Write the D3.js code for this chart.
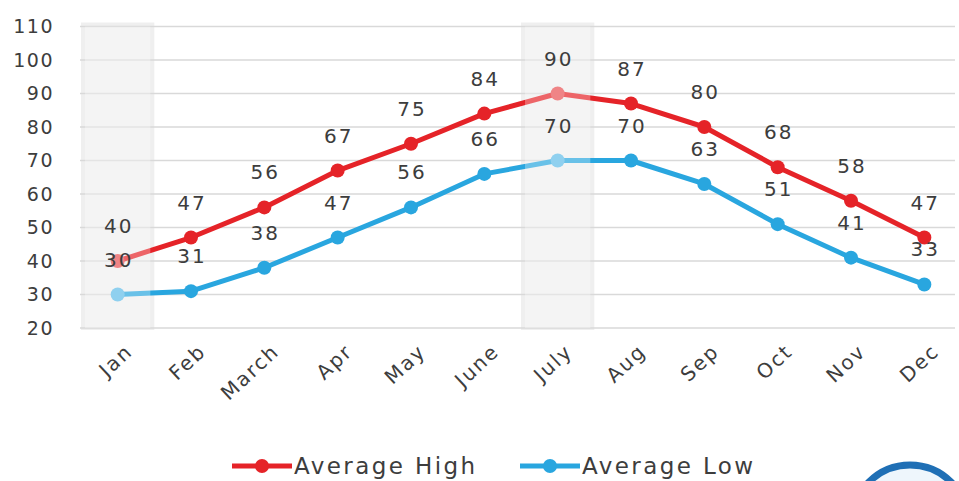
<!DOCTYPE html>
<html><head><meta charset="utf-8">
<script src="https://cdn.jsdelivr.net/npm/d3@7"></script>
<style>body{margin:0;background:#fff;} text{font-family:"DejaVu Sans",sans-serif;fill:#3d3d3d;}</style>
</head><body><svg id="c" width="959" height="481"></svg>
<script>
const months = ["Jan","Feb","March","Apr","May","June","July","Aug","Sep","Oct","Nov","Dec"];
const avgHigh = [40,47,56,67,75,84,90,87,80,68,58,47];
const avgLow = [30,31,38,47,56,66,70,70,63,51,41,33];
const yTicks = [20,30,40,50,60,70,80,90,100,110];
const highlighted = ["Jan","July"];
const seriesNames = ["Average High","Average Low"];
const colors = ["#e52328","#29a6df"];
const lightColors = ["#ef8486","#8fd0ef"];

const svg = d3.select("#c");
const x = d3.scaleBand().domain(months).range([81,961]);
const y = d3.scaleLinear().domain([20,110]).range([328,26.5]);
const cx = d => x(d) + x.bandwidth()/2;
const FONT = "'DejaVu Sans',sans-serif";

// highlight bands
svg.append("g").selectAll("rect").data(highlighted).join("rect")
  .attr("x", d=>x(d)).attr("width", x.bandwidth()).attr("y", y(110)-4).attr("height", y(20)-y(110)+6)
  .attr("fill","#efefef");

// grid
svg.append("g").selectAll("line").data(yTicks).join("line")
  .attr("x1",80).attr("x2",955).attr("y1",d=>y(d)).attr("y2",d=>y(d))
  .attr("stroke","#d9d9d9").attr("stroke-width",1.5);

// y axis labels
const yAxis = svg.append("g").attr("transform","translate(54,0)")
  .call(d3.axisLeft(y).tickValues(yTicks).tickSize(0).tickPadding(0));
yAxis.select(".domain").remove();
yAxis.selectAll("text").attr("font-size",19).attr("fill","#3d3d3d").attr("letter-spacing",1.5)
  .style("font-family",FONT);

// x axis labels
const xAxis = svg.append("g").attr("transform","translate(0,338)")
  .call(d3.axisBottom(x).tickSize(0).tickPadding(0));
xAxis.select(".domain").remove();
xAxis.selectAll("text").attr("font-size",20).attr("fill","#3d3d3d").attr("letter-spacing",2)
  .style("font-family",FONT)
  .attr("text-anchor","end").attr("transform","translate(6,4) rotate(-43)").attr("dy","0.75em").attr("dx","0");

const series = [avgHigh, avgLow];
const line = d3.line().x((d,i)=>cx(months[i])).y(d=>y(d));
series.forEach((vals,s)=>{
  svg.append("path").datum(vals).attr("d",line).attr("fill","none")
    .attr("stroke",colors[s]).attr("stroke-width",5).attr("stroke-linejoin","round");
});
// fade lines inside highlighted bands
svg.append("g").selectAll("rect").data(highlighted).join("rect")
  .attr("x", d=>x(d)+4).attr("width", x.bandwidth()-8).attr("y", y(110)).attr("height", y(20)-y(110))
  .attr("fill","#fff").attr("opacity",0.3);
series.forEach((vals,s)=>{
  svg.append("g").selectAll("circle").data(vals).join("circle")
    .attr("cx",(d,i)=>cx(months[i])).attr("cy",d=>y(d)).attr("r",7)
    .attr("fill",(d,i)=>highlighted.includes(months[i])?lightColors[s]:colors[s]);
  svg.append("g").selectAll("text").data(vals).join("text")
    .attr("x",(d,i)=>cx(months[i])+1).attr("y",d=>y(d)-28)
    .attr("text-anchor","middle").attr("font-size",20).attr("letter-spacing",2).text(d=>d);
});

// legend
const leg = svg.append("g");
[[232,294],[520,582]].forEach(([lx,tx],s)=>{
  leg.append("line").attr("x1",lx).attr("x2",lx+60).attr("y1",466).attr("y2",466)
    .attr("stroke",colors[s]).attr("stroke-width",5);
  leg.append("circle").attr("cx",lx+30).attr("cy",466).attr("r",7).attr("fill",colors[s]);
  leg.append("text").attr("x",tx).attr("y",466).attr("dy","0.36em").attr("font-size",23)
    .attr("letter-spacing",2.4).text(seriesNames[s]);
});

// partial logo circle bottom-right
svg.append("circle").attr("cx",910).attr("cy",523).attr("r",58)
  .attr("fill","#eef6fc").attr("stroke","#1f6fb5").attr("stroke-width",7);
</script></body></html>
